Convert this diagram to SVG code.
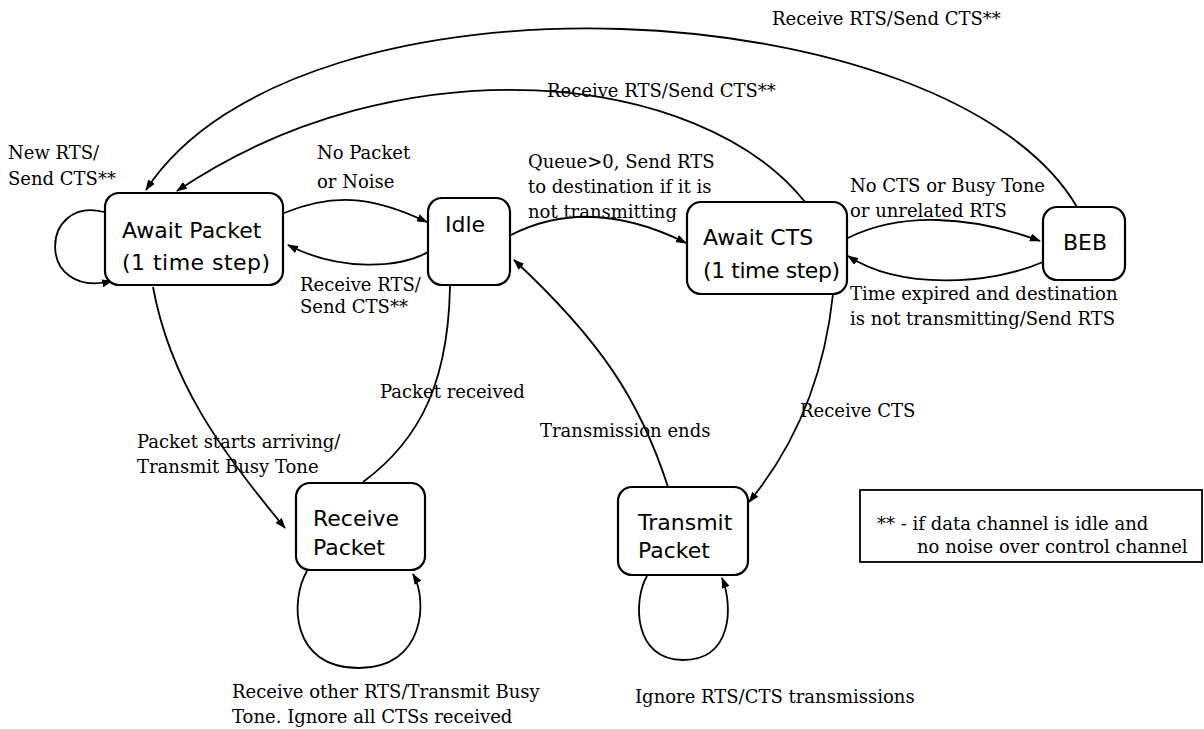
<svg xmlns="http://www.w3.org/2000/svg" width="1204" height="729" viewBox="0 0 1204 729">
<defs>
<marker id="arr" markerWidth="11" markerHeight="8" refX="10" refY="4" orient="auto" markerUnits="userSpaceOnUse">
<path d="M0,0 L11,4 L0,8 z" fill="#000"/>
</marker>
<style>
.node rect{fill:#fff;stroke:#000;stroke-width:2.2}
.nl{font-family:"DejaVu Sans",sans-serif;font-size:22px;fill:#000}
.el{font-family:"DejaVu Serif",serif;font-size:18px;fill:#000}
#edges path{fill:none;stroke:#000;stroke-width:1.8;marker-end:url(#arr)}
</style>
</defs>
<rect width="1204" height="729" fill="#fff"/>
<g id="edges">
<path d="M104,212 C40,195 35,300 112,281"/>
<path d="M284,213 C340,190 380,200 427,222"/>
<path d="M428,252 C400,268 340,272 288,245"/>
<path d="M511,235 C570,205 630,215 686,243"/>
<path d="M848,238 C900,212 970,215 1040,241"/>
<path d="M1043,262 C990,285 900,290 848,256"/>
<path d="M1077,207 C950,-10 300,-45 146,190"/>
<path d="M805,202 C700,70 400,40 177,191"/>
<path d="M153,287 C170,380 220,450 285,528"/>
<path d="M363,482 C420,440 452,380 450,268"/>
<path d="M668,487 C640,400 600,340 514,260"/>
<path d="M833,294 C825,370 800,440 749,502"/>
<path d="M307,571 C290,600 290,668 359,668 C425,668 428,600 413,574"/>
<path d="M647,576 C633,600 633,660 683,660 C733,660 733,605 722,578"/>
</g>
<g id="edge-labels">
<text class="el" x="772" y="25">Receive RTS/Send CTS**</text>
<text class="el" x="547" y="97">Receive RTS/Send CTS**</text>
<text class="el" x="8" y="159">New RTS/</text>
<text class="el" x="8" y="185">Send CTS**</text>
<text class="el" x="317" y="159">No Packet</text>
<text class="el" x="317" y="188">or Noise</text>
<text class="el" x="528" y="168">Queue&gt;0, Send RTS</text>
<text class="el" x="528" y="193">to destination if it is</text>
<text class="el" x="528" y="218">not transmitting</text>
<text class="el" x="850" y="192">No CTS or Busy Tone</text>
<text class="el" x="850" y="217">or unrelated RTS</text>
<text class="el" x="300" y="291">Receive RTS/</text>
<text class="el" x="300" y="313">Send CTS**</text>
<text class="el" x="850" y="300">Time expired and destination</text>
<text class="el" x="850" y="325">is not transmitting/Send RTS</text>
<text class="el" x="380" y="398">Packet received</text>
<text class="el" x="540" y="437">Transmission ends</text>
<text class="el" x="800" y="417">Receive CTS</text>
<text class="el" x="137" y="448">Packet starts arriving/</text>
<text class="el" x="137" y="473">Transmit Busy Tone</text>
<text class="el" x="232" y="698">Receive other RTS/Transmit Busy</text>
<text class="el" x="232" y="723">Tone. Ignore all CTSs received</text>
<text class="el" x="635" y="703">Ignore RTS/CTS transmissions</text>
</g>
<g id="await-packet" class="node">
<rect x="105" y="193" width="178" height="92" rx="14"/>
<text class="nl" x="122" y="238">Await Packet</text>
<text class="nl" x="122" y="270" textLength="148">(1 time step)</text>
</g>
<g id="idle" class="node">
<rect x="428" y="198" width="82" height="87" rx="14"/>
<text class="nl" x="445" y="232">Idle</text>
</g>
<g id="await-cts" class="node">
<rect x="687" y="202" width="160" height="92" rx="14"/>
<text class="nl" x="703" y="245">Await CTS</text>
<text class="nl" x="703" y="278" textLength="137">(1 time step)</text>
</g>
<g id="beb" class="node">
<rect x="1043" y="207" width="82" height="73" rx="14"/>
<text class="nl" x="1085" y="250" text-anchor="middle">BEB</text>
</g>
<g id="receive-packet" class="node">
<rect x="296" y="483" width="129" height="87" rx="14"/>
<text class="nl" x="313" y="526">Receive</text>
<text class="nl" x="313" y="555">Packet</text>
</g>
<g id="transmit-packet" class="node">
<rect x="618" y="487" width="130" height="88" rx="14"/>
<text class="nl" x="638" y="530">Transmit</text>
<text class="nl" x="638" y="558">Packet</text>
</g>
<g id="legend">
<rect x="860" y="490" width="342" height="72" fill="#fff" stroke="#000" stroke-width="1.8"/>
<text class="el" x="877" y="530">** - if data channel is idle and</text>
<text class="el" x="917" y="553">no noise over control channel</text>
</g>
</svg>
